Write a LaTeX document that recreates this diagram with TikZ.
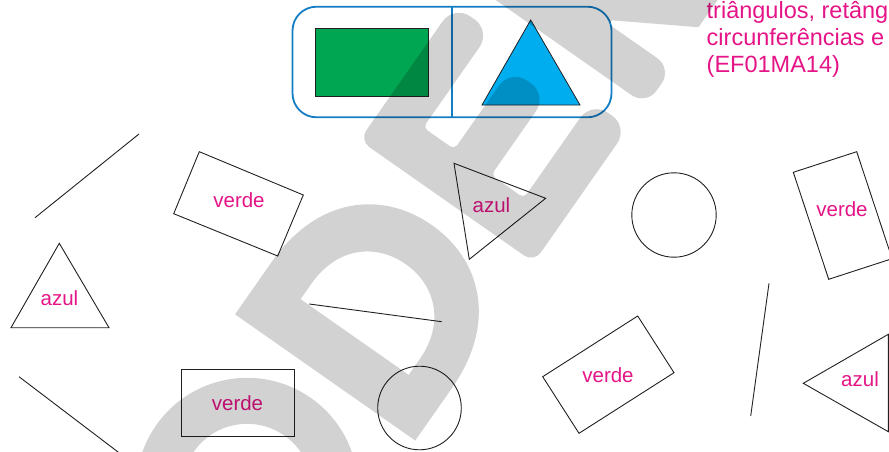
\documentclass[tikz,border=0pt]{standalone}
\usepackage{fontspec}
\setmainfont{Liberation Sans}
\definecolor{framecol}{RGB}{20,125,195}
\definecolor{greencol}{RGB}{0,166,81}
\definecolor{cyancol}{RGB}{0,174,239}
\definecolor{pinkcol}{RGB}{229,20,135}
\definecolor{inkcol}{RGB}{35,31,32}
\begin{document}
\begin{tikzpicture}[x=1pt,y=-1pt,
  outline/.style={draw=inkcol, line width=0.9pt},
  lbl/.style={text=pinkcol, font=\fontsize{20.5}{24}\selectfont, inner sep=0pt},
  headline/.style={text=pinkcol, font=\fontsize{23.5}{27}\selectfont, inner sep=0pt, anchor=base west},
  wm/.style={fill=black, fill opacity=0.175}]
\useasboundingbox (0,0) rectangle (889,452);
\begin{scope}
\clip (0,0) rectangle (889,452);

% key card: green rectangle and blue triangle
\draw[framecol, line width=1.8pt, rounded corners=24pt] (292.5,6.7) rectangle (611.5,117.3);
\draw[framecol, line width=1.6pt] (451.7,6.7) -- (451.7,117.3);
\filldraw[fill=greencol, draw=inkcol, line width=0.8pt] (315.7,28.3) rectangle (428.7,96.3);
\filldraw[fill=cyancol, draw=inkcol, line width=0.8pt] (530.7,20) -- (580,105) -- (482,105) -- cycle;

% heading text
\node[headline] (h1) at (706.5,19) {triângulos, retâng};
\node[headline] (h2) at (706.5,46) {circunferências e};
\node[headline] (h3) at (706.5,73) {(EF01MA14)};

% loose segments
\draw[outline] (139,134) -- (35,217.7);
\draw[outline] (309.3,304) -- (441.7,321.7);
\draw[outline] (19,376.7) -- (120,453.5);
\draw[outline] (769,283.3) -- (750.7,416);

% circles
\draw[outline] (674,215) circle[radius=42.2pt];
\draw[outline] (419.5,408) circle[radius=41.8pt];

% rectangles
\draw[outline] (199.3,151.7) -- (303.3,195) -- (277.7,256) -- (173.7,213.7) -- cycle;
\node[lbl] (v1) at (239,200) {verde};
\draw[outline] (793.3,172.3) -- (856.7,151.7) -- (892.1,258.7) -- (828.7,279.3) -- cycle;
\node[lbl] (v2) at (842,209) {verde};
\draw[outline] (181.3,369.3) rectangle (294.3,436.7);
\node[lbl] (v3) at (237.5,403) {verde};
\draw[outline] (542.7,376.7) -- (637.7,316) -- (674,372.7) -- (579,433.3) -- cycle;
\node[lbl] (v4) at (608,375.5) {verde};

% triangles
\draw[outline] (59.3,243.3) -- (109,327.7) -- (11,327.7) -- cycle;
\node[lbl] (a1) at (59.5,298) {azul};
\draw[outline] (454,163.3) -- (545.7,198.3) -- (469.3,259.3) -- cycle;
\node[lbl] (a2) at (491.5,205) {azul};
\draw[outline] (803.3,383.3) -- (888.3,334.3) -- (888.3,431.7) -- cycle;
\node[lbl] (a3) at (860,379) {azul};

% large grey lettering laid over the sheet
\begin{scope}[shift={(300,300)}, rotate=55]
  % O
  \fill[wm, even odd rule] (-185,65) circle[radius=111pt] (-185,65) circle[radius=65pt];
  % D
  \fill[wm, even odd rule]
    (-49,-45) -- (15,-45) .. controls (95,-45) and (137,5) .. (137,65)
      .. controls (137,125) and (95,175) .. (15,175) -- (-49,175) -- cycle
    (1,0) -- (20,0) .. controls (65,0) and (90,30) .. (90,66)
      .. controls (90,102) and (65,132) .. (20,132) -- (1,132) -- cycle;
  % E
  \fill[wm] [rounded corners=4pt] (165,-43) [rounded corners=20pt] -- (330,-43) -- (330,2)
    [rounded corners=5pt] -- (212,2) -- (212,40) [rounded corners=20pt] -- (310,40) -- (310,85)
    [rounded corners=5pt] -- (212,85) -- (212,125) [rounded corners=20pt] -- (330,125) -- (330,170)
    [rounded corners=12pt] -- (165,170) -- cycle;
  % R
  \fill[wm, even odd rule]
    (358,-43) -- (425,-43) .. controls (470,-43) and (495,-15) .. (495,22)
      .. controls (495,55) and (475,78) .. (455,86) -- (505,170) -- (452,170) -- (408,95)
      -- (403,95) [rounded corners=18pt] -- (403,172) -- (358,172) [sharp corners] -- cycle
    (403,0) -- (425,0) .. controls (440,0) and (448,10) .. (448,23)
      .. controls (448,36) and (440,50) .. (425,50) -- (403,50) -- cycle;
\end{scope}
\end{scope}
\end{tikzpicture}
\end{document}
